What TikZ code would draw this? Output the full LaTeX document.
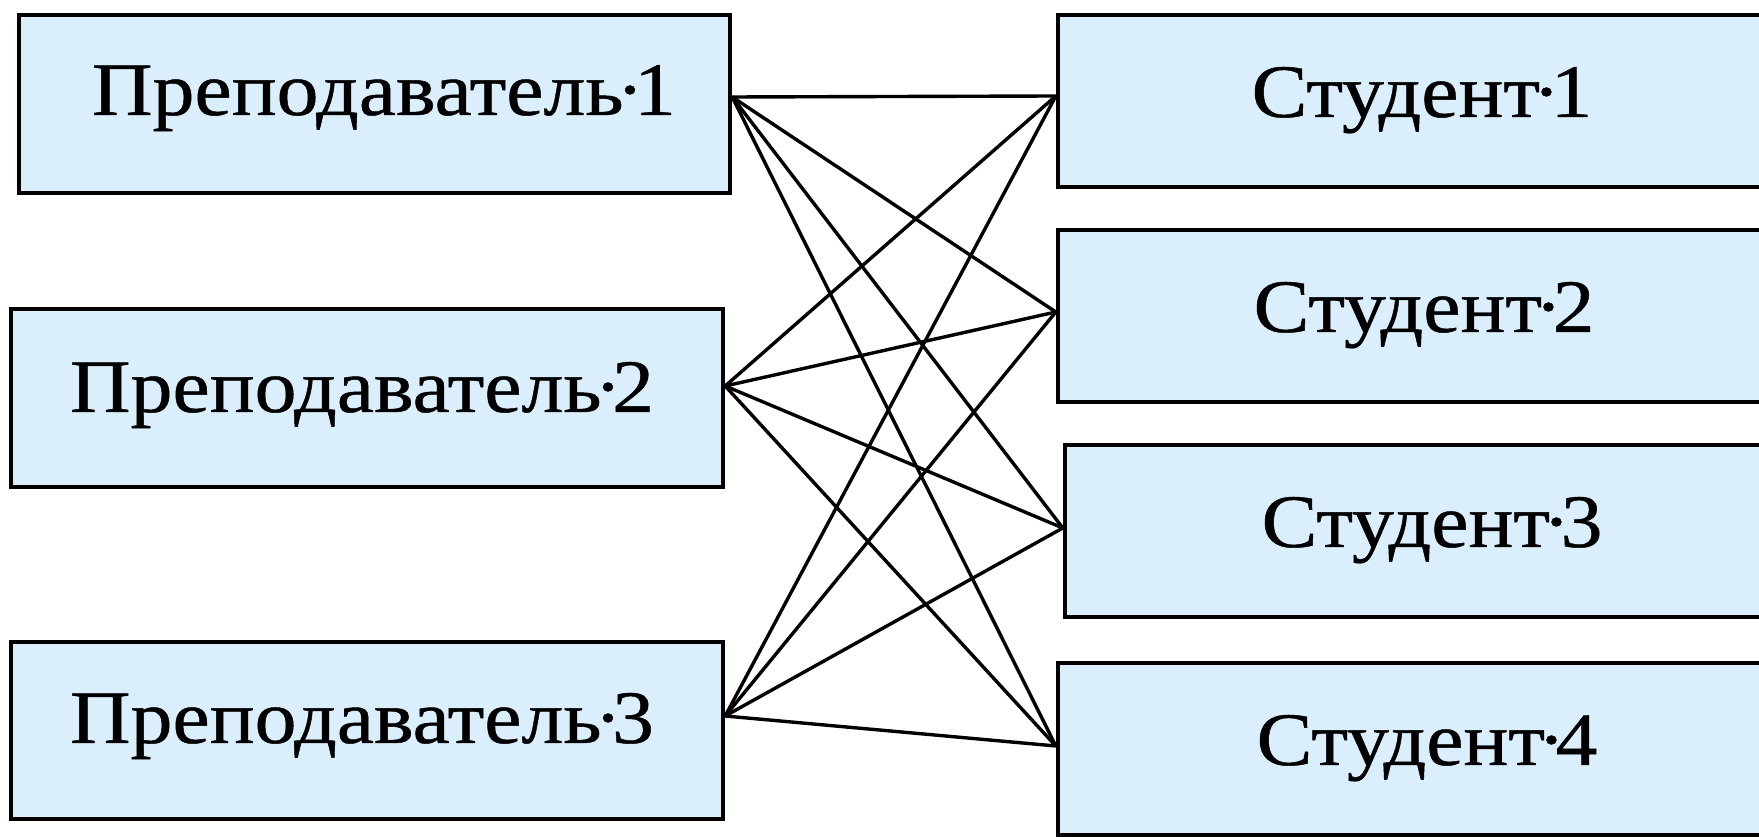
\documentclass[tikz,border=0pt]{standalone}
\usepackage{fontspec}
\setmainfont{Liberation Serif}
\newfontfamily\boxfont[FakeStretch=1.11, FakeBold=0.6]{Liberation Serif}
\usetikzlibrary{calc}
\definecolor{boxfill}{RGB}{218,238,251}
\newcommand{\spdot}{\kern-0.1em·\kern-0.13em}
\tikzset{
  box/.style={draw=black, fill=boxfill, line width=0.09cm, rectangle, inner sep=0pt},
  lbl/.style={anchor=base, inner sep=0pt, font=\boxfont\fontsize{43}{50}\selectfont},
  link/.style={line width=0.068cm, black}
}
\begin{document}
\begin{tikzpicture}[x=0.02cm, y=-0.02cm]
  \fill[white] (0,0) rectangle (1759,837);
  \useasboundingbox (0,0) rectangle (1759,837);

  % teachers
  \node[box, minimum width=14.22cm, minimum height=3.56cm] (p1) at (374.5,104) {};
  \node[box, minimum width=14.24cm, minimum height=3.56cm] (p2) at (367,398) {};
  \node[box, minimum width=14.24cm, minimum height=3.54cm] (p3) at (367,730.5) {};
  % students
  \node[box, minimum width=14.84cm, minimum height=3.44cm] (s1) at (1429,101) {};
  \node[box, minimum width=14.84cm, minimum height=3.44cm] (s2) at (1429,316) {};
  \node[box, minimum width=14.70cm, minimum height=3.44cm] (s3) at (1432.5,531) {};
  \node[box, minimum width=14.84cm, minimum height=3.44cm] (s4) at (1429,749) {};

  % labels
  \node[lbl] (p1t) at (384,115) {Преподаватель\spdot1};
  \node[lbl] (p2t) at (362,412) {Преподаватель\spdot2};
  \node[lbl] (p3t) at (362,743) {Преподаватель\spdot3};
  \node[lbl] (s1t) at (1422,117) {Студент\spdot1};
  \node[lbl] (s2t) at (1424,332) {Студент\spdot2};
  \node[lbl] (s3t) at (1432,547) {Студент\spdot3};
  \node[lbl] (s4t) at (1427,765) {Студент\spdot4};

  % connection ports on the box edges
  \coordinate (p1o) at ($(p1.east)+(0,-7)$);
  \coordinate (p2o) at ($(p2.east)+(0,-12)$);
  \coordinate (p3o) at ($(p3.east)+(0,-14.5)$);
  \coordinate (s1i) at ($(s1.west)+(0,-5)$);
  \coordinate (s2i) at ($(s2.west)+(0,-4)$);
  \coordinate (s3i) at ($(s3.west)+(0,-3)$);
  \coordinate (s4i) at ($(s4.west)+(0,-3)$);

  % every teacher is linked to every student
  \foreach \p in {p1o,p2o,p3o}{
    \foreach \s in {s1i,s2i,s3i,s4i}{
      \draw[link] (\p) -- (\s);
    }
  }
\end{tikzpicture}
\end{document}
